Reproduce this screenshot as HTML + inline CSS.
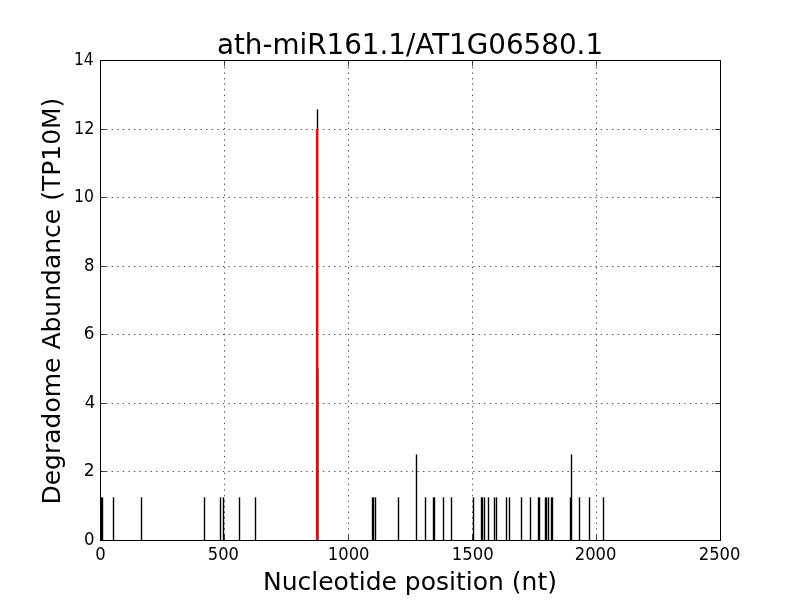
<!DOCTYPE html>
<html lang="en"><head><meta charset="utf-8"><title>ath-miR161.1/AT1G06580.1</title>
<style>html,body{margin:0;padding:0;background:#fff;overflow:hidden}svg{display:block}</style></head>
<body>
<svg width="800" height="600" viewBox="0 0 800 600">
<rect x="0" y="0" width="800" height="600" fill="#fff"/>
<g stroke="#000" stroke-width="0.8" stroke-dasharray="1.39 4.17" fill="none" stroke-opacity="0.85">
<path d="M224.5 540.8V60.5"/>
<path d="M348.5 540.8V60.5"/>
<path d="M472.5 540.8V60.5"/>
<path d="M596.5 540.8V60.5"/>
<path d="M100.5 471.5H720.5"/>
<path d="M100.5 403.5H720.5"/>
<path d="M100.5 334.5H720.5"/>
<path d="M100.5 266.5H720.5"/>
<path d="M100.5 197.5H720.5"/>
<path d="M100.5 129.5H720.5"/>
</g>
<g stroke="#000" stroke-width="0.8" fill="none" stroke-opacity="0.9">
<path d="M100.5 540.5v-5.6M100.5 60.5v5.6"/>
<path d="M224.5 540.5v-5.6M224.5 60.5v5.6"/>
<path d="M348.5 540.5v-5.6M348.5 60.5v5.6"/>
<path d="M472.5 540.5v-5.6M472.5 60.5v5.6"/>
<path d="M596.5 540.5v-5.6M596.5 60.5v5.6"/>
<path d="M720.5 540.5v-5.6M720.5 60.5v5.6"/>
<path d="M100.5 540.5h5.6M720.5 540.5h-5.6"/>
<path d="M100.5 471.5h5.6M720.5 471.5h-5.6"/>
<path d="M100.5 403.5h5.6M720.5 403.5h-5.6"/>
<path d="M100.5 334.5h5.6M720.5 334.5h-5.6"/>
<path d="M100.5 266.5h5.6M720.5 266.5h-5.6"/>
<path d="M100.5 197.5h5.6M720.5 197.5h-5.6"/>
<path d="M100.5 129.5h5.6M720.5 129.5h-5.6"/>
<path d="M100.5 60.5h5.6M720.5 60.5h-5.6"/>
</g>
<g fill="#000">
<rect x="112.8" y="497.34" width="1.4" height="42.66"/>
<rect x="140.8" y="497.34" width="1.4" height="42.66"/>
<rect x="203.8" y="497.34" width="1.4" height="42.66"/>
<rect x="219.8" y="497.34" width="1.4" height="42.66"/>
<rect x="222.8" y="497.34" width="1.4" height="42.66"/>
<rect x="238.8" y="497.34" width="1.4" height="42.66"/>
<rect x="254.8" y="497.34" width="1.4" height="42.66"/>
<rect x="374.8" y="497.34" width="1.4" height="42.66"/>
<rect x="397.8" y="497.34" width="1.4" height="42.66"/>
<rect x="424.8" y="497.34" width="1.4" height="42.66"/>
<rect x="442.8" y="497.34" width="1.4" height="42.66"/>
<rect x="450.8" y="497.34" width="1.4" height="42.66"/>
<rect x="472.8" y="497.34" width="1.4" height="42.66"/>
<rect x="483.8" y="497.34" width="1.4" height="42.66"/>
<rect x="487.8" y="497.34" width="1.4" height="42.66"/>
<rect x="493.8" y="497.34" width="1.4" height="42.66"/>
<rect x="495.8" y="497.34" width="1.4" height="42.66"/>
<rect x="505.8" y="497.34" width="1.4" height="42.66"/>
<rect x="508.8" y="497.34" width="1.4" height="42.66"/>
<rect x="520.8" y="497.34" width="1.4" height="42.66"/>
<rect x="529.8" y="497.34" width="1.4" height="42.66"/>
<rect x="547.8" y="497.34" width="1.4" height="42.66"/>
<rect x="569.8" y="497.34" width="1.4" height="42.66"/>
<rect x="578.8" y="497.34" width="1.4" height="42.66"/>
<rect x="588.8" y="497.34" width="1.4" height="42.66"/>
<rect x="602.8" y="497.34" width="1.4" height="42.66"/>
<rect x="100.8" y="497.34" width="2.4" height="42.66"/>
<rect x="371.8" y="497.34" width="2.4" height="42.66"/>
<rect x="432.8" y="497.34" width="2.4" height="42.66"/>
<rect x="480.8" y="497.34" width="2.4" height="42.66"/>
<rect x="537.8" y="497.34" width="2.4" height="42.66"/>
<rect x="544.8" y="497.34" width="2.4" height="42.66"/>
<rect x="550.8" y="497.34" width="2.4" height="42.66"/>
<rect x="415.8" y="454.49" width="1.4" height="85.51"/>
<rect x="570.8" y="454.49" width="1.4" height="85.51"/>
<rect x="316.8" y="109.4" width="1.4" height="430.6"/>
<rect x="318" y="368.57" width="1" height="171.43" fill-opacity="0.45"/>
</g>
<rect x="315.9" y="129" width="2.3" height="411" fill="#f00"/>
<rect x="100.5" y="60.5" width="620" height="480" fill="none" stroke="#000" stroke-width="1"/>
<g font-family="'DejaVu Sans', 'Liberation Sans', sans-serif" fill="#000">
<g font-size="17.4px">
<text transform="translate(83.91 545) scale(0.9523 1)">0</text>
<text transform="translate(83.85 476) scale(0.9808 1)">2</text>
<text transform="translate(84.84 408) scale(0.9574 1)">4</text>
<text transform="translate(83.67 339) scale(0.9704 1)">6</text>
<text transform="translate(83.88 271) scale(0.9483 1)">8</text>
<text transform="translate(74.02 202) scale(0.9044 1)">10</text>
<text transform="translate(73.98 134) scale(0.9249 1)">12</text>
<text transform="translate(74.05 65) scale(0.8882 1)">14</text>
<text transform="translate(95.16 560) scale(0.9466 1)">0</text>
<text transform="translate(207.84 560) scale(0.9361 1)">500</text>
<text transform="translate(327.85 560) scale(0.9426 1)">1000</text>
<text transform="translate(451.79 560) scale(0.9475 1)">1500</text>
<text transform="translate(574.75 560) scale(0.9414 1)">2000</text>
<text transform="translate(698.80 560) scale(0.9414 1)">2500</text>
</g>
<text x="410" y="53.75" font-size="27.78px" text-anchor="middle">ath-miR161.1/AT1G06580.1</text>
<text x="410" y="590" font-size="25px" text-anchor="middle">Nucleotide position (nt)</text>
<text transform="translate(60 301.1) rotate(-90)" font-size="25px" text-anchor="middle">Degradome Abundance (TP10M)</text>
</g>
</svg>
</body></html>
